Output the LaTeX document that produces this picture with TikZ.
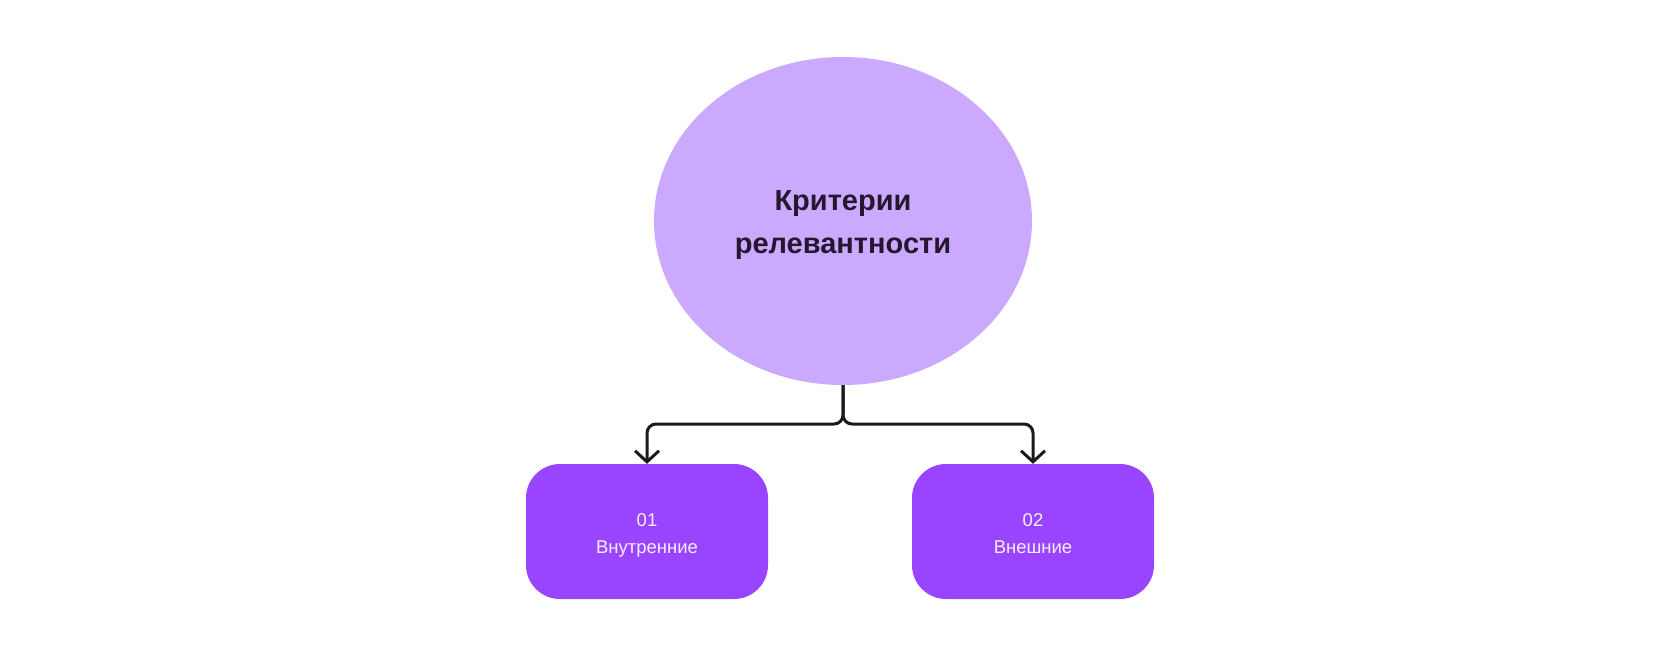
\documentclass[tikz,border=0pt]{standalone}
\usepackage{fontspec}
\setmainfont{Liberation Sans}
\usetikzlibrary{shapes.geometric,arrows.meta}
\definecolor{lilac}{HTML}{CBA9FF}
\definecolor{violet}{HTML}{9945FF}
\definecolor{titleink}{HTML}{24172E}
\definecolor{boxink}{HTML}{F6EEFF}
\definecolor{lineink}{HTML}{1A1A1A}
\tikzset{
  crit/.style={ellipse, fill=lilac, minimum width=378pt, minimum height=328pt, inner sep=0pt,
    align=center, text=titleink, font=\fontsize{29}{43}\selectfont\bfseries},
  card/.style={rectangle, rounded corners=34pt, fill=violet, minimum width=242pt, minimum height=135pt,
    inner sep=0pt, align=center, text=boxink, font=\fontsize{18.5}{27}\selectfont},
  conn/.style={draw=lineink, line width=3pt, rounded corners=9pt,
    -{Straight Barb[length=11pt,width=24pt,line width=3pt]}}
}
\begin{document}
\begin{tikzpicture}[x=1pt,y=-1pt]
\useasboundingbox (0,0) rectangle (1680,657);
\node[crit] (e) at (843,221) {};
\node[text=titleink, font=\fontsize{29}{43}\selectfont\bfseries, align=center] (t) at (843,225) {Критерии\\релевантности};
\node[card] (b1) at (647,531.5) {};
\node[card] (b2) at (1033,531.5) {};
\node[text=boxink, font=\fontsize{18.5}{27}\selectfont, align=center] (t1) at (647,534.5) {01\strut\\Внутренние\strut};
\node[text=boxink, font=\fontsize{18.5}{27}\selectfont, align=center] (t2) at (1033,534.5) {02\strut\\Внешние\strut};
\coordinate (j) at (843,424);
\draw[conn] (e.south) -- (e.south |- j) -| (b1.north);
\draw[conn] (e.south) -- (e.south |- j) -| (b2.north);
\end{tikzpicture}
\end{document}
